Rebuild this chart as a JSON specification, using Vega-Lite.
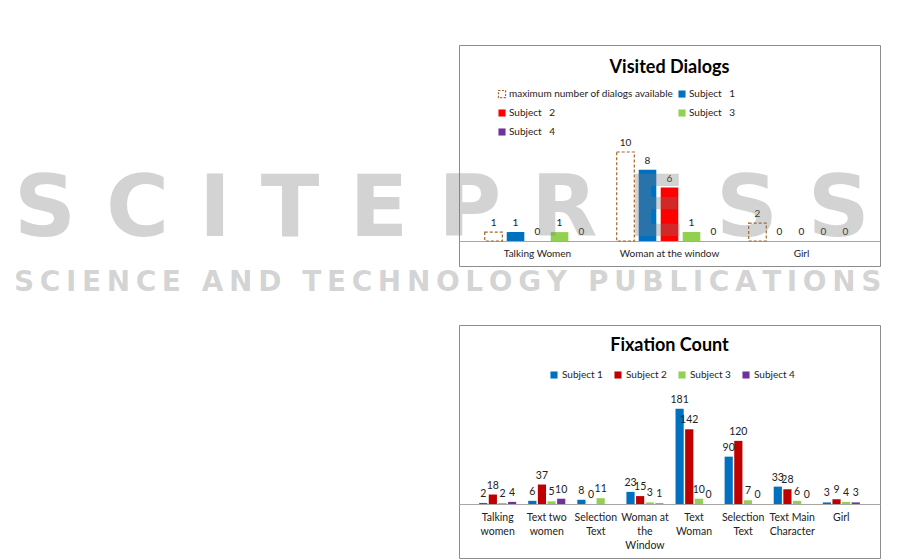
{
  "$schema": "https://vega.github.io/schema/vega-lite/v6.json",
  "background": "white",
  "padding": {"left": 14, "top": 44, "right": 0, "bottom": 0},
  "title": {
    "text": "S C I T E P R E S S",
    "subtitle": "S\u2009C\u2009I\u2009E\u2009N\u2009C\u2009E\u2009 \u2009A\u2009N\u2009D\u2009 \u2009T\u2009E\u2009C\u2009H\u2009N\u2009O\u2009L\u2009O\u2009G\u2009Y\u2009 \u2009P\u2009U\u2009B\u2009L\u2009I\u2009C\u2009A\u2009T\u2009I\u2009O\u2009N\u2009S",
    "anchor": "start",
    "frame": "group",
    "dx": -445,
    "dy": 257,
    "font": "DejaVu Sans",
    "fontSize": 86,
    "fontWeight": "bold",
    "color": "rgba(120,120,120,0.33)",
    "subtitleFont": "DejaVu Sans",
    "subtitleFontSize": 28,
    "subtitleFontWeight": "bold",
    "subtitleColor": "rgba(120,120,120,0.33)",
    "subtitlePadding": 15,
    "zindex": 1
  },
  "spacing": 57,
  "resolve": {
    "scale": {"x": "independent", "y": "independent", "xOffset": "independent", "fill": "independent", "stroke": "independent", "strokeDash": "independent"},
    "legend": {"fill": "independent", "stroke": "independent", "strokeDash": "independent"},
    "axis": {"x": "independent", "y": "independent"}
  },
  "vconcat": [
    {
      "width": 421,
      "height": 221,
      "title": {"text": "Visited Dialogs", "offset": -32, "fontSize": 18, "fontWeight": "bold", "font": "Lato", "color": "#000"},
      "data": {"values": [
        {"category": "Talking Women", "series": "maximum number of dialogs available", "value": 1},
        {"category": "Talking Women", "series": "Subject\u00a0\u00a0\u00a01", "value": 1},
        {"category": "Talking Women", "series": "Subject\u00a0\u00a0\u00a02", "value": 0},
        {"category": "Talking Women", "series": "Subject\u00a0\u00a0\u00a03", "value": 1},
        {"category": "Talking Women", "series": "Subject\u00a0\u00a0\u00a04", "value": 0},
        {"category": "Woman at the window", "series": "maximum number of dialogs available", "value": 10},
        {"category": "Woman at the window", "series": "Subject\u00a0\u00a0\u00a01", "value": 8},
        {"category": "Woman at the window", "series": "Subject\u00a0\u00a0\u00a02", "value": 6},
        {"category": "Woman at the window", "series": "Subject\u00a0\u00a0\u00a03", "value": 1},
        {"category": "Woman at the window", "series": "Subject\u00a0\u00a0\u00a04", "value": 0},
        {"category": "Girl", "series": "maximum number of dialogs available", "value": 2},
        {"category": "Girl", "series": "Subject\u00a0\u00a0\u00a01", "value": 0},
        {"category": "Girl", "series": "Subject\u00a0\u00a0\u00a02", "value": 0},
        {"category": "Girl", "series": "Subject\u00a0\u00a0\u00a03", "value": 0},
        {"category": "Girl", "series": "Subject\u00a0\u00a0\u00a04", "value": 0}
      ]},
      "encoding": {
        "x": {
          "field": "category", "type": "nominal",
          "sort": ["Talking Women", "Woman at the window", "Girl"],
          "scale": {"paddingInner": 0.2, "paddingOuter": 0.195},
          "axis": {"title": null, "orient": "bottom", "offset": -25, "ticks": false, "labelAngle": 0, "labelPadding": 7, "labelFontSize": 10, "labelColor": "#222", "domainColor": "#A6A6A6", "labelFont": "Lato"}
        },
        "xOffset": {
          "field": "series", "type": "nominal",
          "sort": ["maximum number of dialogs available", "Subject\u00a0\u00a0\u00a01", "Subject\u00a0\u00a0\u00a02", "Subject\u00a0\u00a0\u00a03", "Subject\u00a0\u00a0\u00a04"],
          "scale": {"paddingInner": 0.2, "paddingOuter": 0}
        },
        "y": {"field": "value", "type": "quantitative", "stack": null, "scale": {"domain": [-2.81, 22.02], "nice": false, "zero": false}, "axis": null}
      },
      "layer": [
        {
          "mark": {"type": "bar", "strokeWidth": 1.2},
          "encoding": {
            "y2": {"datum": 0},
            "fill": {
              "field": "series", "type": "nominal",
              "scale": {"domain": ["maximum number of dialogs available", "Subject\u00a0\u00a0\u00a02", "Subject\u00a0\u00a0\u00a04", "Subject\u00a0\u00a0\u00a01", "Subject\u00a0\u00a0\u00a03"], "range": ["white", "#FF0000", "#7030A0", "#0070C0", "#92D050"]},
              "legend": {
                "title": null, "orient": "none", "legendX": 38, "legendY": 44, "columns": 2, "symbolType": "square", "symbolSize": 50,
                "labelFontSize": 10, "labelFont": "Lato", "labelColor": "#222", "labelLimit": 400, "rowPadding": 7, "columnPadding": 2, "labelOffset": 2,
                "encode": {"symbols": {"update": {
                  "stroke": {"signal": "datum.value === 'maximum number of dialogs available' ? '#A5652A' : 'transparent'"},
                  "strokeDash": {"value": [2, 1.5]},
                  "strokeWidth": {"value": 1.2}
                }}}
              }
            },
            "stroke": {
              "field": "series", "type": "nominal",
              "scale": {"domain": ["maximum number of dialogs available", "Subject\u00a0\u00a0\u00a01", "Subject\u00a0\u00a0\u00a02", "Subject\u00a0\u00a0\u00a03", "Subject\u00a0\u00a0\u00a04"], "range": ["#A5652A", "transparent", "transparent", "transparent", "transparent"]},
              "legend": null
            },
            "strokeDash": {
              "field": "series", "type": "nominal",
              "scale": {"domain": ["maximum number of dialogs available", "Subject\u00a0\u00a0\u00a01", "Subject\u00a0\u00a0\u00a02", "Subject\u00a0\u00a0\u00a03", "Subject\u00a0\u00a0\u00a04"], "range": [[3, 2], [1, 0], [1, 0], [1, 0], [1, 0]]},
              "legend": null
            }
          }
        },
        {
          "mark": {"type": "text", "baseline": "bottom", "dy": -4, "fontSize": 10, "font": "Lato", "color": "#222"},
          "encoding": {"text": {"field": "value", "type": "quantitative"}}
        }
      ]
    },
    {
      "width": 421,
      "height": 233,
      "title": {"text": "Fixation Count", "offset": -30, "fontSize": 18, "fontWeight": "bold", "font": "Lato", "color": "#000"},
      "data": {"values": [
        {"category": "Talking|women", "series": "Subject 1", "value": 2},
        {"category": "Talking|women", "series": "Subject 2", "value": 18},
        {"category": "Talking|women", "series": "Subject 3", "value": 2},
        {"category": "Talking|women", "series": "Subject 4", "value": 4},
        {"category": "Text two|women", "series": "Subject 1", "value": 6},
        {"category": "Text two|women", "series": "Subject 2", "value": 37},
        {"category": "Text two|women", "series": "Subject 3", "value": 5},
        {"category": "Text two|women", "series": "Subject 4", "value": 10},
        {"category": "Selection|Text", "series": "Subject 1", "value": 8},
        {"category": "Selection|Text", "series": "Subject 2", "value": 0},
        {"category": "Selection|Text", "series": "Subject 3", "value": 11},
        {"category": "Woman at|the|Window", "series": "Subject 1", "value": 23},
        {"category": "Woman at|the|Window", "series": "Subject 2", "value": 15},
        {"category": "Woman at|the|Window", "series": "Subject 3", "value": 3},
        {"category": "Woman at|the|Window", "series": "Subject 4", "value": 1},
        {"category": "Text|Woman", "series": "Subject 1", "value": 181},
        {"category": "Text|Woman", "series": "Subject 2", "value": 142},
        {"category": "Text|Woman", "series": "Subject 3", "value": 10},
        {"category": "Text|Woman", "series": "Subject 4", "value": 0},
        {"category": "Selection|Text ", "series": "Subject 1", "value": 90},
        {"category": "Selection|Text ", "series": "Subject 2", "value": 120},
        {"category": "Selection|Text ", "series": "Subject 3", "value": 7},
        {"category": "Selection|Text ", "series": "Subject 4", "value": 0},
        {"category": "Text Main|Character", "series": "Subject 1", "value": 33},
        {"category": "Text Main|Character", "series": "Subject 2", "value": 28},
        {"category": "Text Main|Character", "series": "Subject 3", "value": 6},
        {"category": "Text Main|Character", "series": "Subject 4", "value": 0},
        {"category": "Girl", "series": "Subject 1", "value": 3},
        {"category": "Girl", "series": "Subject 2", "value": 9},
        {"category": "Girl", "series": "Subject 3", "value": 4},
        {"category": "Girl", "series": "Subject 4", "value": 3}
      ]},
      "encoding": {
        "x": {
          "field": "category", "type": "nominal",
          "sort": ["Talking|women", "Text two|women", "Selection|Text", "Woman at|the|Window", "Text|Woman", "Selection|Text ", "Text Main|Character", "Girl"],
          "scale": {"paddingInner": 0.245, "paddingOuter": 0.41},
          "axis": {"title": null, "orient": "bottom", "offset": -54, "ticks": false, "labelAngle": 0, "labelPadding": 8, "labelFontSize": 10.5, "labelLineHeight": 14, "labelColor": "#222", "domainColor": "#A6A6A6", "labelFont": "Lato", "labelExpr": "split(trim(datum.label), '|')"}
        },
        "xOffset": {
          "field": "series", "type": "nominal",
          "sort": ["Subject 1", "Subject 2", "Subject 3", "Subject 4"],
          "scale": {"domain": ["Subject 1", "Subject 2", "Subject 3", "Subject 4"], "paddingInner": 0.15, "paddingOuter": 0}
        },
        "y": {"field": "value", "type": "quantitative", "stack": null, "scale": {"domain": [-102.7, 340.3], "nice": false, "zero": false}, "axis": null}
      },
      "layer": [
        {
          "mark": {"type": "bar"},
          "encoding": {
            "y2": {"datum": 0},
            "fill": {
              "field": "series", "type": "nominal",
              "scale": {"domain": ["Subject 1", "Subject 2", "Subject 3", "Subject 4"], "range": ["#0070C0", "#C00000", "#92D050", "#7030A0"]},
              "legend": {"title": null, "orient": "none", "direction": "horizontal", "legendX": 90, "legendY": 45, "symbolType": "square", "symbolSize": 50, "labelFontSize": 10, "labelFont": "Lato", "labelColor": "#222", "columnPadding": 10, "labelOffset": 3}
            }
          }
        },
        {
          "mark": {"type": "text", "baseline": "bottom", "dy": -4, "fontSize": 10.5, "font": "Lato", "color": "#222"},
          "encoding": {"text": {"field": "value", "type": "quantitative"}}
        }
      ]
    }
  ],
  "config": {
    "font": "Lato",
    "view": {"stroke": "#8C8C8C", "strokeWidth": 1}
  }
}
